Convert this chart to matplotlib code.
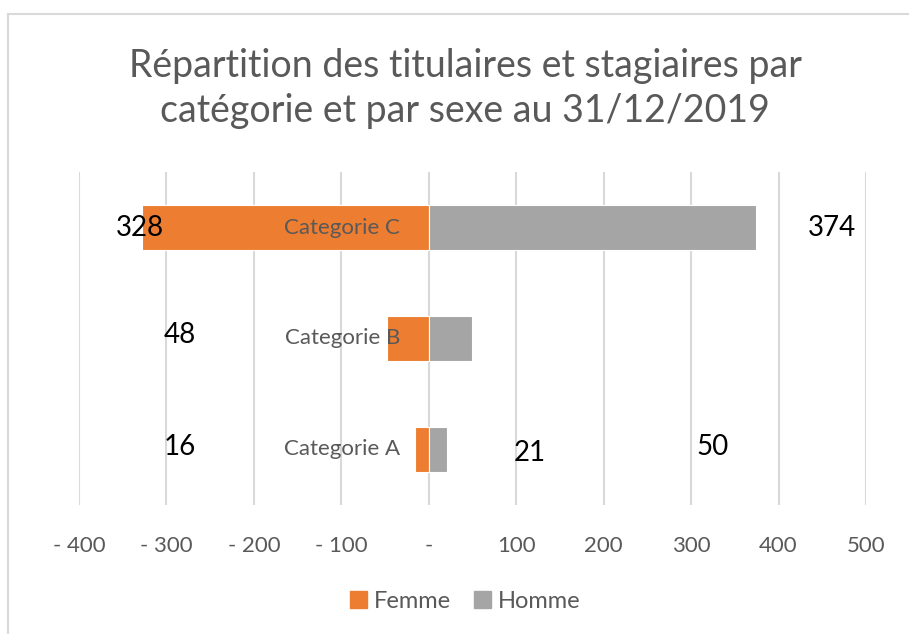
import matplotlib.pyplot as plt
from matplotlib.lines import Line2D
from matplotlib.patches import Patch

categories = ["Categorie A", "Categorie B", "Categorie C"]
femme = [16, 48, 328]
homme = [21, 50, 374]
ticks = [-400, -300, -200, -100, 0, 100, 200, 300, 400, 500]
tick_labels = ["- 400", "- 300", "- 200", "- 100", "-", "100", "200", "300", "400", "500"]

# where Excel ended up putting the data labels (x, y in data coords)
label_pos = [(-285, 0.02), (-285, 1.03), (-330, 2.0),
             (115, -0.03), (324, 0.02), (461, 2.0)]
label_txt = [femme[0], femme[1], femme[2], homme[0], homme[1], homme[2]]

plt.rcParams["font.family"] = ["Lato", "DejaVu Sans"]
ORANGE = "#ed7d31"
GREY = "#a5a5a5"
TXT = "#595959"

fig = plt.figure(figsize=(9.09, 6.34), dpi=100)
ax = fig.add_axes([0.0869, 0.2035, 0.8658, 0.5252])

y = range(len(categories))
ax.barh(y, [-v for v in femme], height=0.4, color=ORANGE, edgecolor="white", lw=0.8, zorder=3)
ax.barh(y, homme, height=0.4, color=GREY, edgecolor="white", lw=0.8, zorder=3)

ax.set_xlim(-400, 500)
ax.set_ylim(-0.5, 2.5)
ax.set_xticks(ticks)
ax.set_xticklabels(tick_labels, color=TXT, fontsize=16)
ax.set_yticks([])
ax.tick_params(axis="x", length=0, pad=22)
ax.grid(axis="x", color="#d9d9d9", lw=1.5, zorder=0)
for s in ax.spines.values():
    s.set_visible(False)

for i, cat in enumerate(categories):
    ax.text(-33, i, cat, ha="right", va="center", color=TXT, fontsize=16, zorder=4)

for (lx, ly), t in zip(label_pos, label_txt):
    ax.text(lx, ly, str(t), ha="center", va="center", color="black", fontsize=20, zorder=4)

fig.text(0.512, 0.860, "Répartition des titulaires et stagiaires par\ncatégorie et par sexe au 31/12/2019",
         ha="center", va="center", color=TXT, fontsize=27, linespacing=1.32)

handles = [Patch(color=ORANGE), Patch(color=GREY)]
fig.legend(handles, ["Femme", "Homme"], loc="center", bbox_to_anchor=(0.512, 0.052), ncol=2,
           frameon=False, fontsize=17, handlelength=0.7, handleheight=0.7,
           handletextpad=0.3, columnspacing=1.0, labelcolor=TXT)

# outer chart frame (only top and left are visible in the crop)
fig.add_artist(Line2D([0.009, 0.009], [0, 0.978], color="#d9d9d9", lw=1.5))
fig.add_artist(Line2D([0.009, 1.0], [0.978, 0.978], color="#d9d9d9", lw=1.5))

fig.savefig("out.png", dpi=100)
